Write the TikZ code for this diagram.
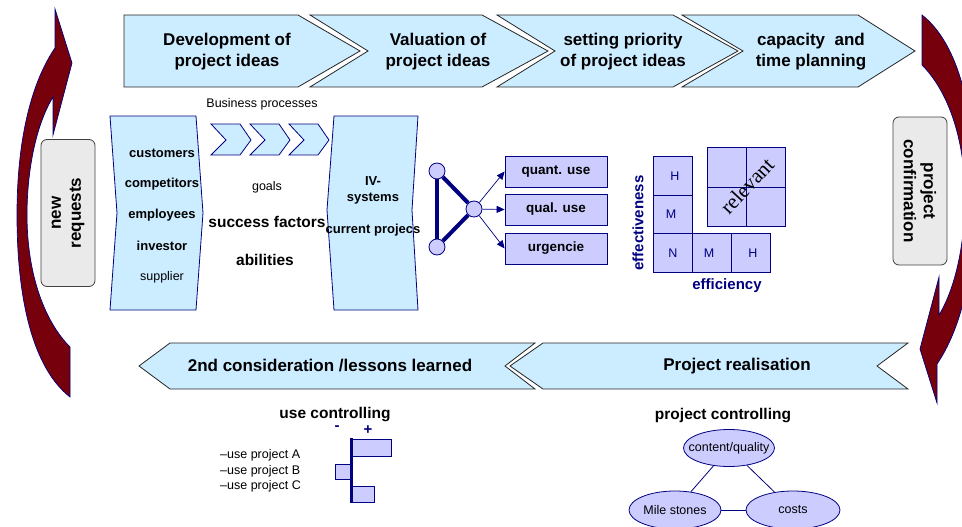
\documentclass[tikz,border=0pt]{standalone}
\usepackage{fontspec}
\setmainfont{Liberation Sans}
\setsansfont{Liberation Sans}
\newfontfamily\serifrel{Liberation Serif}
\usetikzlibrary{arrows.meta, positioning, shapes.geometric, backgrounds}
\definecolor{procblue}{RGB}{204,236,255}
\definecolor{cellviolet}{RGB}{204,204,255}
\definecolor{navy}{RGB}{0,0,128}
\definecolor{boxgray}{RGB}{234,234,234}
\definecolor{arrowred}{RGB}{118,0,12}

\begin{document}
\begin{tikzpicture}[
		x=1pt, y=-1pt,
		every node/.style={inner sep=0pt, font=\fontsize{12.5}{15}\selectfont},
		procarrow/.style={draw=black!85, fill=procblue, line width=0.8pt},
		proctext/.style={font=\fontsize{17}{21}\selectfont\bfseries, align=center},
		wavebox/.style={draw=navy, fill=procblue, line width=0.8pt},
		bigarrow/.style={draw=navy, fill=arrowred, line width=0.7pt},
		sidebox/.style={draw=black!75, fill=boxgray, rounded corners=6pt, line width=0.8pt, minimum height=54pt, align=center, font=\fontsize{17}{20}\selectfont\bfseries},
		smallbold/.style={font=\fontsize{13}{16}\selectfont\bfseries, align=center},
		midbold/.style={font=\fontsize{15.5}{18}\selectfont\bfseries},
		usebox/.style={draw=navy, fill=cellviolet, line width=0.8pt, minimum width=102pt, minimum height=31pt, font=\fontsize{13.5}{16}\selectfont\bfseries},
		hub/.style={circle, draw=navy, fill=cellviolet, minimum size=16pt, line width=0.8pt},
		cellbox/.style={draw=navy, fill=cellviolet, line width=0.8pt},
		celltext/.style={text=navy},
		axislabel/.style={text=navy, font=\fontsize{15}{18}\selectfont\bfseries},
		usebar/.style={draw=navy, fill=cellviolet, line width=0.8pt},
		ctrlellipse/.style={ellipse, draw=navy, fill=cellviolet, minimum width=92pt, minimum height=38pt, inner xsep=-9pt, line width=0.8pt},
		linkline/.style={navy, line width=0.8pt},
		arrowstyle/.style={-{Triangle[length=8pt, width=7pt]}, navy, line width=0.7pt}
	]
	\clip (0,0) rectangle (962,527);

	% Curved loop arrows
	\path[bigarrow] (55,9) -- (72,63) -- (53,135) -- (53,97)
	.. controls (36,125) and (27,170) .. (27,215)
	.. controls (27,275) and (45,322) .. (70,347) -- (70,397)
	.. controls (33,368) and (17,300) .. (17,215)
	.. controls (17,135) and (33,80) .. (55,48) -- cycle;
	\path[bigarrow, rotate around={180:(496,206)}] (55,9) -- (72,63) -- (53,135) -- (53,97)
	.. controls (36,125) and (27,170) .. (27,215)
	.. controls (27,275) and (45,322) .. (70,347) -- (70,397)
	.. controls (33,368) and (17,300) .. (17,215)
	.. controls (17,135) and (33,80) .. (55,48) -- cycle;

	\node[sidebox, rotate=90, minimum width=147pt] (newreq) at (68,213) {new\\requests};
	\node[sidebox, rotate=-90, minimum width=148pt] (confirm) at (920,191) {project\\confirmation};

	% Top process chain
	\draw[procarrow] (124,15) -- (298,15) -- (360,51) -- (298,87) -- (124,87) -- cycle;
	\draw[procarrow] (310,15) -- (482,15) -- (548,51) -- (482,87) -- (310,87) -- (368,51) -- cycle;
	\draw[procarrow] (497,15) -- (673,15) -- (738,51) -- (673,87) -- (497,87) -- (555,51) -- cycle;
	\draw[procarrow] (682,15) -- (858,15) -- (915,51) -- (858,87) -- (682,87) -- (743,51) -- cycle;
	\node[proctext] (develop) at (227,52) {Development of\\project ideas};
	\node[proctext] (valuate) at (438,52) {Valuation of\\project ideas};
	\node[proctext] (priority) at (623,52) {setting priority\\of project ideas};
	\node[proctext] (capacity) at (811,52) {capacity\ \ and\\time planning};

	% Bottom process chain
	\draw[procarrow] (139,366) -- (170,343) -- (535,343) -- (505,366) -- (535,389) -- (170,389) -- cycle;
	\draw[procarrow] (510,366) -- (543,343) -- (908,343) -- (877,366) -- (908,389) -- (543,389) -- cycle;
	\node[proctext] (lessons) at (330,366) {2nd consideration /lessons learned};
	\node[proctext] (realise) at (737,366) {Project realisation};

	% Stakeholders and business processes
	\draw[wavebox] (110,116) -- (196,116) -- (203,213) -- (196,310) -- (110,310) -- (117,213) -- cycle;
	\node[smallbold] (customers) at (162,153) {customers};
	\node[smallbold] (competitors) at (162,184) {competitors};
	\node[smallbold] (employees) at (162,215) {employees};
	\node[smallbold] (investor) at (162,246) {investor};
	\node (supplier) at (162,277) {supplier};

	\node (busproc) at (262,104) {Business processes};
	\foreach \dx in {0,39,78}
	\draw[wavebox, xshift=\dx pt] (211,124) -- (240,124) -- (251,140) -- (240,155) -- (211,155) -- (226,140) -- cycle;
	\node (goals) at (267,187) {goals};
	\node[midbold] (success) at (267,222) {success factors};
	\node[midbold] (abilities) at (265,260) {abilities};

	\draw[wavebox] (334,116) -- (418,116) -- (412,210) -- (418,310) -- (334,310) -- (327,210) -- cycle;
	\node[smallbold] (ivsys) at (373,190) {IV-\\systems};
	\node[smallbold] (current) at (373,230) {current projecs};

	% Use network
	\node[hub] (hubtop) at (437,171) {};
	\node[hub] (hubbot) at (437,247) {};
	\node[hub] (hubmid) at (474,209) {};
	\begin{scope}[on background layer]
		\draw[navy, line width=4.5pt] (hubtop) -- (hubbot);
		\draw[navy, line width=4pt] (hubtop) -- (hubmid);
		\draw[navy, line width=4pt] (hubbot) -- (hubmid);
	\end{scope}
	\node[usebox] (quant) at (556,171.5) {quant. use};
	\node[usebox] (qual) at (556,209.5) {qual. use};
	\node[usebox] (urgent) at (556,248.5) {urgencie};
	\draw[arrowstyle] (hubmid) -- (quant.west);
	\draw[arrowstyle] (hubmid) -- (qual.west);
	\draw[arrowstyle] (hubmid) -- (urgent.west);

	% Portfolio matrix
	\draw[cellbox] (653,156) rectangle (692,195);
	\draw[cellbox] (653,195) rectangle (692,233);
	\draw[cellbox] (653,233) rectangle (692,272);
	\draw[cellbox] (692,233) rectangle (731,272);
	\draw[cellbox] (731,233) rectangle (770,272);
	\draw[cellbox] (707,147) rectangle (785,226);
	\draw[cellbox] (746,147) -- (746,226) (707,187) -- (785,187);
	\node[celltext] (effH) at (675,176) {H};
	\node[celltext] (effM) at (671,214) {M};
	\node[celltext] (effN) at (673,253) {N};
	\node[celltext] (ficM) at (709,253) {M};
	\node[celltext] (ficH) at (753,253) {H};
	\node[font=\serifrel\fontsize{21}{24}\selectfont, rotate=47] (relevant) at (747,186) {relevant};
	\node[axislabel, rotate=90] (effect) at (638,223) {effectiveness};
	\node[axislabel] (effic) at (727,286) {efficiency};

	% Use controlling
	\node[midbold] (usectrl) at (335,415) {use controlling};
	\node[axislabel] (minus) at (337,428) {-};
	\node[axislabel] (plus) at (368,430) {+};
	\draw[usebar] (351,439) rectangle (391,456);
	\draw[usebar] (335,464) rectangle (351,479);
	\draw[usebar] (351,486) rectangle (374,502);
	\draw[navy, line width=3pt] (351,438) -- (351,503);
	\node[anchor=west] (projA) at (220,455) {–use project A};
	\node[anchor=west] (projB) at (220,471) {–use project B};
	\node[anchor=west] (projC) at (220,486) {–use project C};

	% Project controlling
	\node[midbold] (projctrl) at (723,416) {project controlling};
	\node[ctrlellipse, minimum width=91pt, minimum height=37pt] (quality) at (729,448) {content/quality};
	\node[ctrlellipse] (milestones) at (675,510) {Mile stones};
	\node[ctrlellipse, minimum width=94pt] (costs) at (793,510) {costs};
	\draw[linkline] (quality) -- (milestones);
	\draw[linkline] (quality) -- (costs);
	\draw[linkline] (milestones) -- (costs);
\end{tikzpicture}
\end{document}
